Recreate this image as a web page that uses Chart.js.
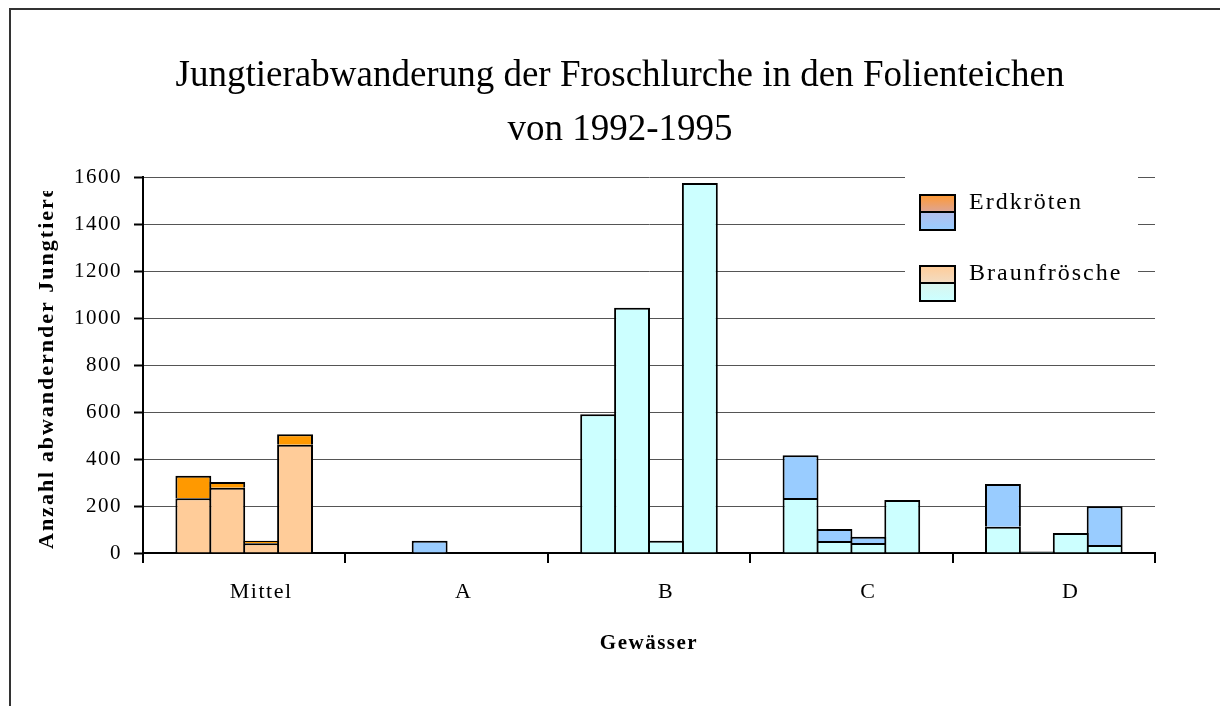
<!DOCTYPE html>
<html lang="de">
<head>
<meta charset="utf-8">
<title>Jungtierabwanderung</title>
<script src="https://cdn.jsdelivr.net/npm/chart.js@4.4.1/dist/chart.umd.min.js"></script>
<style>
  html, body { margin: 0; padding: 0; background: #fff; overflow: hidden; }
  #wrap { position: relative; width: 1220px; height: 706px; }
  #frame { position: absolute; left: 9px; top: 8px; width: 1400px; height: 900px;
           border-left: 2px solid #333; border-top: 2px solid #333; pointer-events: none; }
</style>
</head>
<body>
<div id="wrap">
  <canvas id="chart" width="1220" height="706"></canvas>
  <div id="frame"></div>
</div>
<script>
// Gewässer und Jahre
const gewaesser = ['Mittel', 'A', 'B', 'C', 'D'];
const jahre = ['1992', '1993', '1994', '1995'];
const yWerte = [0, 200, 400, 600, 800, 1000, 1200, 1400, 1600];

// Braunfrösche je Gewässer (Mittel, A, B, C, D)
const braun1992 = [233, 0, 590, 234, 112];
const braun1993 = [278, 0, 1044, 51, 6];
const braun1994 = [41, 0, 52, 43, 85];
const braun1995 = [461, 0, 1574, 226, 34];

// Erdkröten je Gewässer
const erd1992 = [96, 0, 0, 182, 182];
const erd1993 = [24, 52, 0, 51, 0];
const erd1994 = [11, 0, 0, 26, 0];
const erd1995 = [44, 0, 0, 0, 165];

const titelZeilen = ['Jungtierabwanderung der Froschlurche in den Folienteichen', 'von 1992-1995'];
const yTitel = 'Anzahl abwandernder Jungtiere';
const xTitel = 'Gewässer';
const legendeTexte = ['Erdkröten', 'Braunfrösche'];

const braunWerte = [braun1992, braun1993, braun1994, braun1995];
const erdWerte = [erd1992, erd1993, erd1994, erd1995];

// Mittelwerte orange, einzelne Teiche blau
const farbeBraun = gewaesser.map(g => g === 'Mittel' ? '#FFCC99' : '#CCFFFF');
const farbeErd = gewaesser.map(g => g === 'Mittel' ? '#FF9900' : '#99CCFF');

const schrift = 'Liberation Serif';

const datasets = [];
jahre.forEach((jahr, i) => {
    datasets.push({
        label: 'Braunfrösche ' + jahr,
        data: braunWerte[i],
        stack: jahr,
        backgroundColor: farbeBraun
    });
    datasets.push({
        label: 'Erdkröten ' + jahr,
        data: erdWerte[i],
        stack: jahr,
        backgroundColor: farbeErd
    });
});

// etwas Sperrung für alle Achsentexte
const sperrung = {
    id: 'sperrung',
    beforeDraw(chart) {
        chart.ctx.letterSpacing = '1.5px';
    }
};

// Titel und gekappter Y-Achsentitel
const beschriftung = {
    id: 'beschriftung',
    afterDraw(chart) {
        const ctx = chart.ctx;
        ctx.save();
        ctx.fillStyle = '#000';
        ctx.letterSpacing = '0px';
        ctx.font = '37px "' + schrift + '"';
        ctx.textAlign = 'center';
        ctx.textBaseline = 'alphabetic';
        ctx.fillText(titelZeilen[0], 620, 86);
        ctx.fillText(titelZeilen[1], 620, 140);

        ctx.beginPath();
        ctx.rect(0, 191, 140, 500);
        ctx.clip();
        ctx.translate(53, 549);
        ctx.rotate(-Math.PI / 2);
        ctx.letterSpacing = '2px';
        ctx.font = 'bold 22px "' + schrift + '"';
        ctx.textAlign = 'left';
        ctx.fillText(yTitel, 0, 0);
        ctx.restore();
    }
};

// Legende mit zweigeteilten Farbfeldern
const legende = {
    id: 'legende',
    afterDraw(chart) {
        const ctx = chart.ctx;
        ctx.save();
        ctx.fillStyle = '#fff';
        ctx.fillRect(905, 172, 233, 136);

        const felder = [
            { y: 195, oben: ['#FF9933', '#DDA595'], unten: ['#B3BDEB', '#99CCFF'] },
            { y: 266, oben: ['#FFCC99', '#F2DCC2'], unten: ['#D9F5EE', '#CCFFFF'] }
        ];
        felder.forEach((f, i) => {
            const x = 920, w = 35, h = 17;
            let g = ctx.createLinearGradient(0, f.y, 0, f.y + h);
            g.addColorStop(0, f.oben[0]);
            g.addColorStop(1, f.oben[1]);
            ctx.fillStyle = g;
            ctx.fillRect(x, f.y, w, h);
            g = ctx.createLinearGradient(0, f.y + h, 0, f.y + 2 * h);
            g.addColorStop(0, f.unten[0]);
            g.addColorStop(1, f.unten[1]);
            ctx.fillStyle = g;
            ctx.fillRect(x, f.y + h, w, h + 1);
            ctx.strokeStyle = '#000';
            ctx.lineWidth = 2;
            ctx.strokeRect(x, f.y, w, 2 * h + 1);
            ctx.beginPath();
            ctx.moveTo(x, f.y + h);
            ctx.lineTo(x + w, f.y + h);
            ctx.stroke();

            ctx.fillStyle = '#000';
            ctx.letterSpacing = '2px';
            ctx.font = '24px "' + schrift + '"';
            ctx.textAlign = 'left';
            ctx.textBaseline = 'alphabetic';
            ctx.fillText(legendeTexte[i], 969, f.y + 14);
        });
        ctx.restore();
    }
};

new Chart(document.getElementById('chart'), {
    type: 'bar',
    data: { labels: gewaesser, datasets: datasets },
    options: {
        responsive: false,
        animation: false,
        layout: { padding: { top: 177, right: 65, bottom: 0, left: 0 } },
        datasets: {
            bar: {
                categoryPercentage: 0.67,
                // leicht überlappend, damit sich Nachbarbalken eine Kante teilen
                barPercentage: 1.059,
                borderColor: '#000',
                borderWidth: 2
            }
        },
        plugins: {
            legend: { display: false },
            title: { display: false },
            tooltip: { enabled: false }
        },
        scales: {
            x: {
                stacked: true,
                grid: { offset: true, drawOnChartArea: false, drawTicks: true, tickLength: 10, color: '#000', lineWidth: 2 },
                border: { color: '#000', width: 2 },
                ticks: { color: '#000', font: { family: schrift, size: 22 }, padding: 16, labelOffset: 17 },
                title: {
                    display: true,
                    text: xTitel,
                    color: '#000',
                    font: { family: schrift, size: 21, weight: 'bold' },
                    padding: { top: 0, bottom: 50 }
                },
                afterFit: s => { s.height = 153; }
            },
            y: {
                stacked: true,
                min: 0,
                max: 1600,
                afterBuildTicks: s => { s.ticks = yWerte.map(v => ({ value: v })); },
                grid: { color: '#555', lineWidth: 1, tickLength: 9, tickColor: '#000', tickWidth: 2 },
                border: { color: '#000', width: 2 },
                ticks: {
                    color: '#000',
                    font: { family: schrift, size: 21 },
                    padding: 12,
                    callback: v => String(v)
                },
                afterFit: s => { s.width = 143; }
            }
        }
    },
    plugins: [sperrung, beschriftung, legende]
});
</script>
</body>
</html>
